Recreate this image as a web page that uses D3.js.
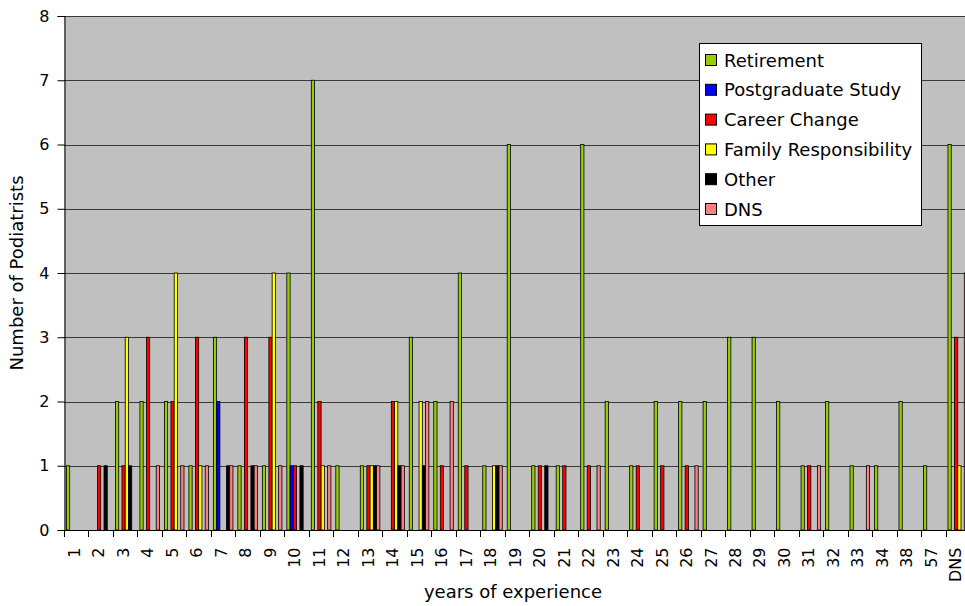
<!DOCTYPE html>
<html>
<head>
<meta charset="utf-8">
<script src="https://cdn.jsdelivr.net/npm/d3@7/dist/d3.min.js"></script>
<style>
  html, body { margin: 0; padding: 0; background: #fff; }
  svg { display: block; font-family: "DejaVu Sans", Verdana, sans-serif; }
</style>
</head>
<body>
<svg id="chart" width="965" height="606"></svg>
<script>
// Years of experience (categories along the x axis)
const categories = ["1","2","3","4","5","6","7","8","9","10","11","12","13","14","15","16","17","18","19","20",
  "21","22","23","24","25","26","27","28","29","30","31","32","33","34","38","57","DNS"];

// Reasons for leaving (one series each)
const seriesNames = ["Retirement", "Postgraduate Study", "Career Change", "Family Responsibility", "Other", "DNS"];
const seriesColors = ["#99CC00", "#0000FF", "#FF0000", "#FFFF00", "#000000", "#FF8080"];

// Number of podiatrists per category, one array per series
const retirement    = [1,0,2,2,2,1,3,1,1,4, 7,1,1,0,3,2,4,1,6,1, 1,6,2,1,2,2,2,3,3,2, 1,2,1,1,2,1,6];
const postgraduate  = [0,0,0,0,0,0,2,0,0,1, 0,0,0,0,0,0,0,0,0,0, 0,0,0,0,0,0,0,0,0,0, 0,0,0,0,0,0,0];
const careerChange  = [0,1,1,3,2,3,0,3,3,1, 2,0,1,2,0,1,1,0,0,1, 1,1,0,1,1,1,0,0,0,0, 1,0,0,0,0,0,3];
const familyResp    = [0,0,3,0,4,1,0,0,4,0, 1,0,1,2,2,0,0,1,0,0, 0,0,0,0,0,0,0,0,0,0, 0,0,0,0,0,0,1];
const otherReason   = [0,1,1,0,0,0,1,1,0,1, 0,0,1,1,1,0,0,1,0,1, 0,0,0,0,0,0,0,0,0,0, 0,0,0,0,0,0,0];
const didNotState   = [0,0,0,1,1,1,1,1,1,0, 1,0,1,1,2,2,0,1,0,0, 0,1,0,0,0,1,0,0,0,0, 1,0,1,0,0,0,4];

const yTicks = [0,1,2,3,4,5,6,7,8];

const seriesValues = [retirement, postgraduate, careerChange, familyResp, otherReason, didNotState];

const svg = d3.select("#chart");

const plot = { left: 64, right: 970, top: 16, bottom: 530 };

const x0 = d3.scaleBand().domain(categories).range([plot.left, plot.right]).paddingInner(0).paddingOuter(0);
const x1 = d3.scaleBand().domain(seriesNames).range([0, x0.bandwidth()]).paddingInner(0).paddingOuter(0.75);
const y = d3.scaleLinear().domain([0, 8]).range([plot.bottom, plot.top]);

// plot area background
svg.append("rect")
  .attr("x", plot.left).attr("y", plot.top)
  .attr("width", plot.right - plot.left).attr("height", plot.bottom - plot.top)
  .attr("fill", "#C0C0C0");

// horizontal gridlines
svg.append("g")
  .selectAll("line")
  .data(yTicks.filter(d => d > 0))
  .join("line")
  .attr("x1", plot.left).attr("x2", plot.right)
  .attr("y1", d => Math.round(y(d)) + 0.5).attr("y2", d => Math.round(y(d)) + 0.5)
  .attr("stroke", "#3a3a3a").attr("stroke-width", 1);

// bars (zero counts are not drawn)
const rows = [];
categories.forEach((c, i) => {
  seriesNames.forEach((s, j) => {
    const v = seriesValues[j][i];
    if (v > 0) rows.push({ cat: c, series: s, value: v, color: seriesColors[j] });
  });
});

svg.append("g")
  .selectAll("rect")
  .data(rows)
  .join("rect")
  .attr("x", d => x0(d.cat) + x1(d.series))
  .attr("y", d => y(d.value))
  .attr("width", x1.bandwidth())
  .attr("height", d => y(0) - y(d.value))
  .attr("fill", d => d.color)
  .attr("stroke", "#000")
  .attr("stroke-width", 0.8);

// y axis
const yAxis = svg.append("g")
  .attr("transform", `translate(${plot.left + 0.5},0)`)
  .call(d3.axisLeft(y).tickValues(yTicks).tickFormat(d3.format("d")).tickSize(7).tickPadding(8));
yAxis.select(".domain").attr("stroke", "#000");
yAxis.selectAll(".tick line").attr("stroke", "#000");
yAxis.selectAll(".tick text").attr("font-size", 16).attr("fill", "#000")
  .attr("font-family", "DejaVu Sans, Verdana, sans-serif");

// x axis: labels near the centre of each band, ticks on band boundaries
const xAxis = svg.append("g")
  .attr("transform", `translate(-2,${plot.bottom + 0.5})`)
  .call(d3.axisBottom(x0).tickSize(0).tickPadding(0));
xAxis.select(".domain").remove();
xAxis.selectAll(".tick text")
  .attr("font-size", 16).attr("fill", "#000")
  .attr("font-family", "DejaVu Sans, Verdana, sans-serif")
  .attr("text-anchor", "end")
  .attr("transform", "translate(0,17) rotate(-90)")
  .attr("x", 0).attr("y", 0).attr("dy", "0.35em");

svg.append("line")
  .attr("x1", plot.left).attr("x2", plot.right)
  .attr("y1", plot.bottom + 0.5).attr("y2", plot.bottom + 0.5)
  .attr("stroke", "#000");

svg.append("g")
  .selectAll("line")
  .data(categories)
  .join("line")
  .attr("x1", d => Math.round(x0(d)) + 0.5).attr("x2", d => Math.round(x0(d)) + 0.5)
  .attr("y1", plot.bottom).attr("y2", plot.bottom + 7)
  .attr("stroke", "#000");

// axis titles
svg.append("text")
  .attr("x", 513).attr("y", 598)
  .attr("text-anchor", "middle")
  .attr("font-size", 18)
  .text("years of experience");

svg.append("text")
  .attr("transform", `translate(23,${(plot.top + plot.bottom) / 2}) rotate(-90)`)
  .attr("text-anchor", "middle")
  .attr("font-size", 18)
  .text("Number of Podiatrists");

// legend
const legend = svg.append("g");
legend.append("rect")
  .attr("x", 699.5).attr("y", 43.5)
  .attr("width", 222).attr("height", 182)
  .attr("fill", "#fff").attr("stroke", "#000");

const items = legend.selectAll("g.item")
  .data(seriesNames)
  .join("g")
  .attr("class", "item")
  .attr("transform", (d, i) => `translate(0,${60 + i * 29.8})`);

items.append("rect")
  .attr("x", 705.5).attr("y", -5.5)
  .attr("width", 11).attr("height", 11)
  .attr("fill", (d, i) => seriesColors[i])
  .attr("stroke", "#000");

items.append("text")
  .attr("x", 724).attr("y", 6.5)
  .attr("font-size", 18)
  .text(d => d);
</script>
</body>
</html>
